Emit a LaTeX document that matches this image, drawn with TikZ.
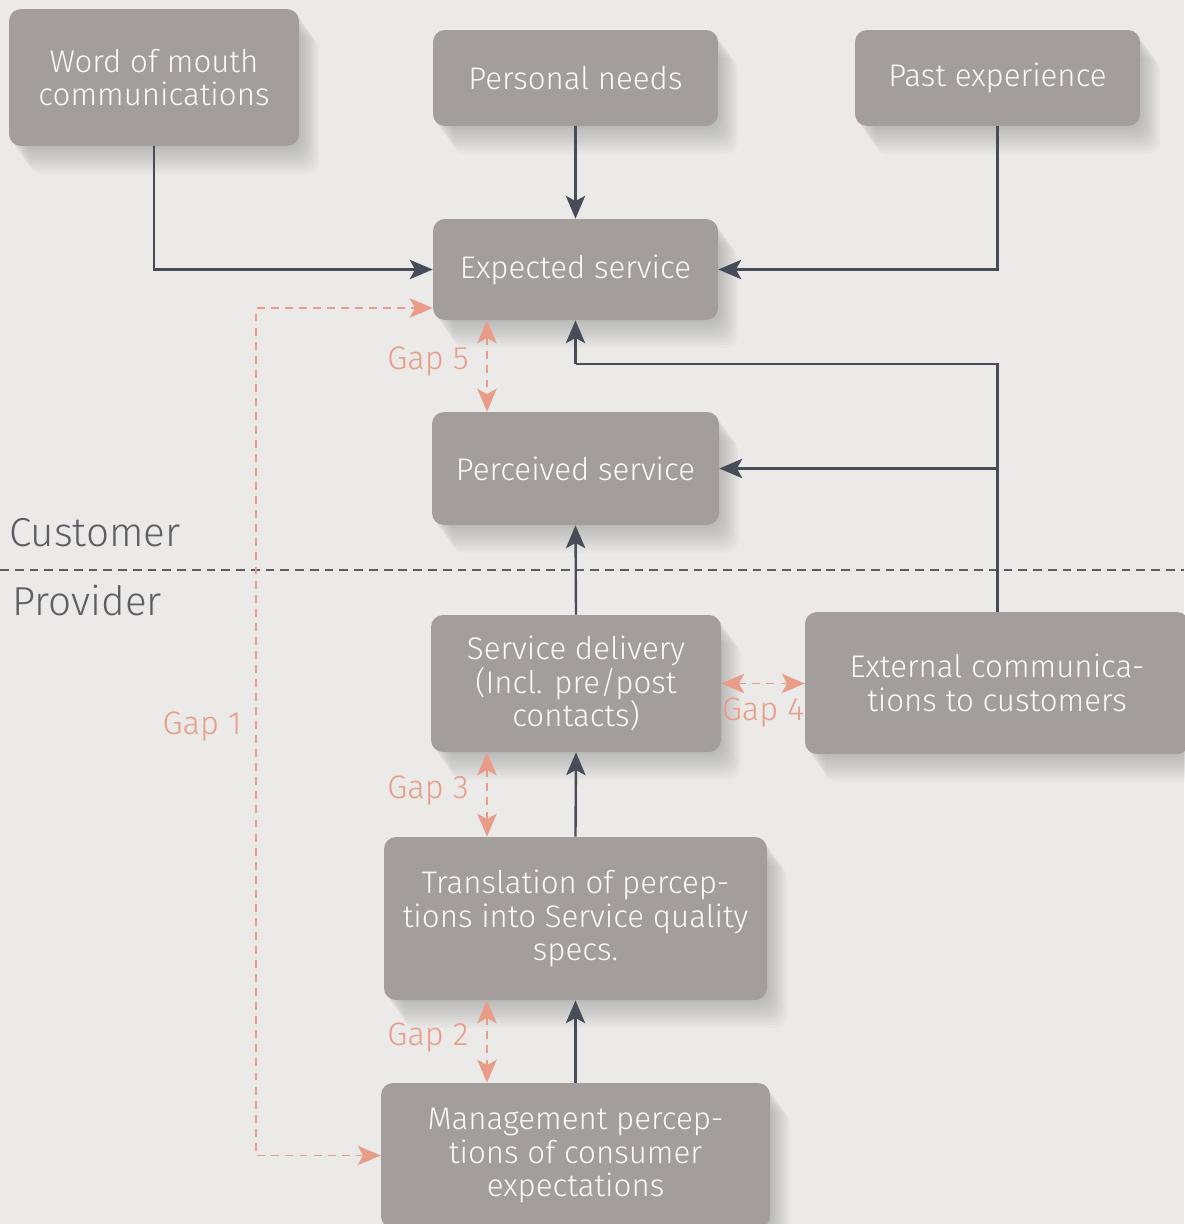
\documentclass[tikz,border=0pt]{standalone}
\usepackage{fontspec}
\setmainfont{Fira Sans}[UprightFont=* Light]
\usetikzlibrary{arrows.meta}
\newlength\px
\setlength\px{0.02cm}
\definecolor{bgc}{HTML}{EBEAE8}
\definecolor{boxc}{HTML}{A39E9B}
\definecolor{linec}{HTML}{474D58}
\definecolor{gapc}{HTML}{E99C87}
\definecolor{sepc}{HTML}{5C5E63}
\tikzset{
  tip/.tip={Stealth[length=13pt, width=11pt, inset=3pt]},
  softshade/.style={preaction={fill=black, fill opacity=0.018,
      transform canvas={xshift=#1*1\px, yshift=-#1*1.4\px}}},
  stage/.style={rounded corners=12\px, fill=boxc, text=white!96!boxc,
    align=center, inner sep=0pt,
    font=\fontsize{17.8}{19.2}\selectfont,
    softshade=2, softshade=4, softshade=6, softshade=8, softshade=10,
    softshade=12, softshade=14, softshade=16, softshade=18, softshade=20},
  flow/.style={draw=linec, line width=1.35pt, -tip},
  gap/.style={draw=gapc, line width=1.05pt, dash pattern=on 4.5pt off 3.5pt, tip-tip},
  gaplabel/.style={text=gapc, font=\fontsize{18.5}{19}\selectfont, inner sep=0pt},
  sidelabel/.style={text=sepc, font=\fontsize{23}{24}\selectfont, inner sep=0pt, anchor=west},
}
\begin{document}
\begin{tikzpicture}[x=1\px, y=-1\px]
  \fill[bgc] (0,0) rectangle (1184,1224);
  \useasboundingbox (0,0) rectangle (1184,1224);

  % customer side
  \node[stage, minimum width=290\px, minimum height=137\px] (wom) at (154,77.5)
    {Word of mouth\\communications};
  \node[stage, minimum width=285\px, minimum height=96\px] (pn) at (575.5,78)
    {Personal needs};
  \node[stage, minimum width=285\px, minimum height=96\px] (pe) at (997.5,78)
    {Past experience};
  \node[stage, minimum width=285\px, minimum height=101\px] (es) at (575.5,269.5)
    {Expected service};
  \node[stage, minimum width=287\px, minimum height=113\px] (ps) at (575.5,468.5)
    {Perceived service};

  % provider side
  \node[stage, minimum width=290\px, minimum height=137\px] (sd) at (576,683.5)
    {Service delivery\\(Incl. pre/post\\contacts)};
  \node[stage, minimum width=384\px, minimum height=142\px] (ec) at (997,683)
    {External communica-\\tions to customers};
  \node[stage, minimum width=383\px, minimum height=163\px] (tr) at (575.5,918.5)
    {Translation of percep-\\tions into Service quality\\specs.};
  \node[stage, minimum width=389\px, minimum height=145\px] (mg) at (575.5,1155.5)
    {Management percep-\\tions of consumer\\expectations};

  % customer / provider divider
  \coordinate (divL) at (0,570);
  \coordinate (divR) at (1184,570);
  \draw[sepc, line width=0.9pt, dash pattern=on 5pt off 3.4pt] (divL) -- (divR);
  \node[sidelabel] (cust) at (9,533) {Customer};
  \node[sidelabel] (prov) at (12,600) {Provider};

  % flows
  \draw[flow] (wom.south) |- (es.west);
  \draw[flow] (pn.south) -- (es.north);
  \draw[flow] (pe.south) |- (es.east);
  \coordinate (ecTop) at (ec.north -| pe.south);
  \coordinate (jn) at (575.5,364);
  \draw[flow] (ecTop) |- (ps.east);
  \draw[draw=linec, line width=1.35pt] (ecTop) |- (jn);
  \draw[flow] (jn) -- (es.south);
  \draw[flow] (sd.north) -- (ps.south);
  \draw[flow] (tr.north) -- (sd.south);
  \draw[flow] (mg.north) -- (tr.south);

  % gaps
  \coordinate (gx) at (487,0);
  \draw[gap] (es.south -| gx) -- (ps.north -| gx);
  \node[gaplabel] (g5) at (428,362) {Gap 5};
  \draw[gap] (sd.south -| gx) -- (tr.north -| gx);
  \node[gaplabel] (g3) at (428,791) {Gap 3};
  \draw[gap] (tr.south -| gx) -- (mg.north -| gx);
  \node[gaplabel] (g2) at (428,1038) {Gap 2};
  \draw[gap] (sd.east) -- (ec.west |- sd.east);
  \node[gaplabel] (g4) at (763,713) {Gap 4};
  \coordinate (g1c) at (256,308);
  \draw[gap] (mg.west) -| (g1c) -- (es.west |- g1c);
  \node[gaplabel] (g1) at (202,727) {Gap 1};
\end{tikzpicture}
\end{document}
